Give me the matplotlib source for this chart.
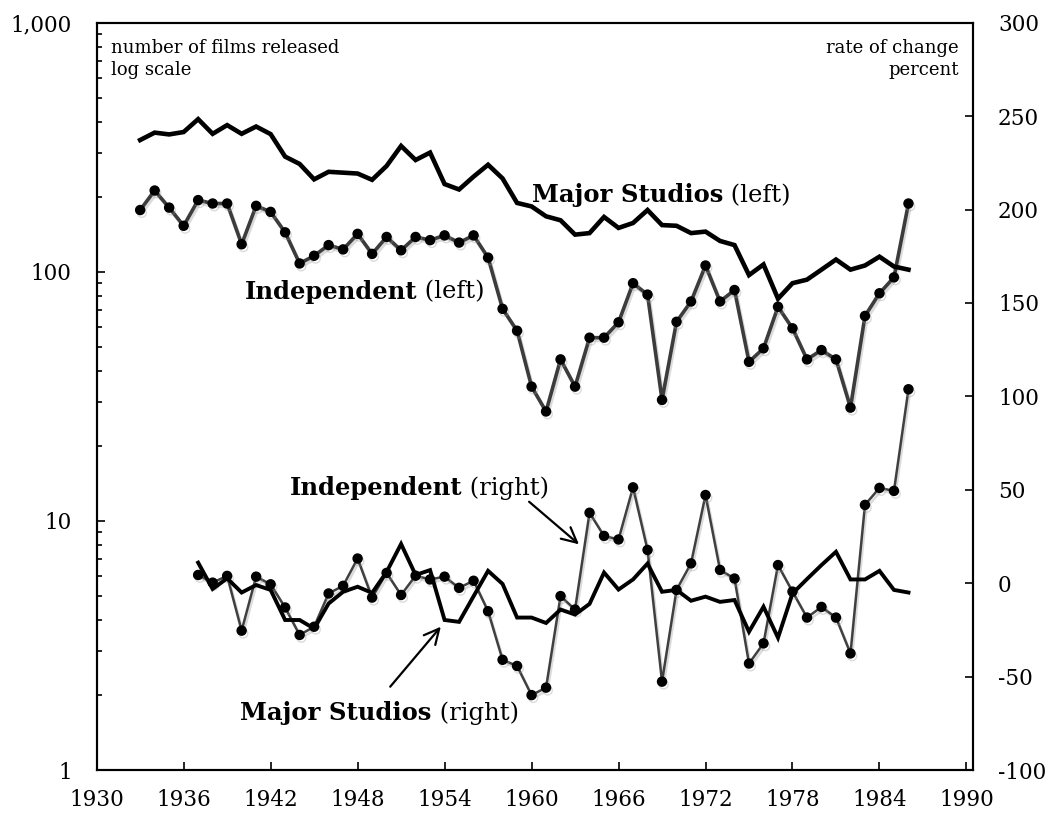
"""Film releases by major studios and independents, 1933-1986."""
import matplotlib

matplotlib.use("Agg")
import matplotlib.pyplot as plt
import matplotlib.patheffects as pe
from matplotlib.ticker import FixedLocator, FuncFormatter, LogLocator, NullFormatter
import numpy as np

YEARS_LEFT = np.arange(1933, 1987)
YEARS_RIGHT = np.arange(1937, 1987)

MAJOR_LEFT = [338, 362, 356, 364, 410, 358, 388, 358, 383, 357,
              290, 271, 235, 252, 250, 248, 234, 266, 320, 281,
              301, 225, 214, 241, 269, 237, 189, 183, 167, 161,
              141, 143, 166, 150, 157, 177, 154, 153, 143, 145,
              133, 128, 97, 107, 78, 90, 93, 102, 112, 102,
              106, 115, 105, 102]
INDEP_LEFT = [177, 212, 181, 153, 194, 188, 188, 129, 184, 174,
              144, 108, 116, 128, 123, 142, 118, 138, 122, 138,
              134, 140, 131, 140, 114, 71, 58, 34.6, 27.5, 44.5,
              34.6, 54.4, 54.4, 62.7, 90, 81, 30.6, 63, 76, 106,
              76, 84.5, 43.5, 49.3, 72.4, 59.3, 44.5, 48.5, 44.5, 28.5,
              66.5, 82, 95, 188]

MAJOR_RIGHT = [11, -3.1, 2.6, -5, -1, -3.6, -19.7, -19.7, -24.3, -10.9,
               -4.6, -1.9, -5.2, 6, 21, 4.4, 7, -19.7, -20.7, -7,
               6.6, -0.4, -18.4, -18.4, -21.3, -14.1, -16.8, -11.1, 5.7, -3.4,
               2, 10.5, -4.6, -3.6, -9.4, -7.2, -10, -9, -26, -12.6,
               -29.2, -5.5, 2.2, 9.7, 16.8, 2, 2, 6.6, -3.6, -5]
INDEP_RIGHT = [4.4, 0.3, 3.9, -25.4, 3.5, -0.6, -13, -27.7, -23.3, -5.5,
               -1.4, 13.2, -7.7, 5.5, -6.3, 4, 2, 3.5, -2.5, 1.3,
               -15, -41, -44.3, -59.9, -55.9, -6.9, -14.1, 37.7, 25.3, 23.4,
               51.3, 17.8, -52.7, -3.6, 10.6, 47.2, 7.1, 2.5, -43, -32.2,
               9.7, -4.5, -18.4, -12.7, -18.4, -37.6, 41.9, 51, 49.4, 103.8]

X_TICKS = [1930, 1936, 1942, 1948, 1954, 1960, 1966, 1972, 1978, 1984, 1990]
LEFT_TICKS = [1, 10, 100, 1000]
RIGHT_TICKS = [-100, -50, 0, 50, 100, 150, 200, 250, 300]

FONT = "DejaVu Serif"
SHADOW = [pe.SimpleLineShadow(offset=(1.2, -2.0), shadow_color="#999999", alpha=0.35), pe.Normal()]


def label_pair(ax, x, y, bold, regular, size=17.5):
    t = ax.text(x, y, bold, fontsize=size, fontweight="bold", family=FONT, va="baseline", ha="left")
    ax.annotate(regular, xy=(1, 0), xycoords=t, va="bottom", ha="left", fontsize=size, family=FONT)


def style_axis(ax):
    for side in ("left", "right", "top", "bottom"):
        ax.spines[side].set_linewidth(1.5)
    ax.tick_params(which="major", direction="in", length=6, width=1.2, labelsize=15.5, pad=18)
    ax.tick_params(which="minor", direction="in", length=3.5, width=1.2)
    for lab in ax.get_xticklabels() + ax.get_yticklabels():
        lab.set_family(FONT)


def main():
    fig = plt.figure(figsize=(10.53, 8.19), dpi=100)
    ax = fig.add_axes([0.0918, 0.0598, 0.8322, 0.9125])
    ax2 = ax.twinx()

    ax.plot(YEARS_LEFT, MAJOR_LEFT, color="black", linewidth=3.3, solid_joinstyle="miter", zorder=3)
    ax.plot(YEARS_LEFT, INDEP_LEFT, color="#3c3c3c", linewidth=2.6, marker="o", markersize=6.5,
            markerfacecolor="black", markeredgecolor="black", path_effects=SHADOW, zorder=2)
    ax2.plot(YEARS_RIGHT, INDEP_RIGHT, color="#404040", linewidth=1.8, marker="o", markersize=6.5,
             markerfacecolor="black", markeredgecolor="black", path_effects=SHADOW, zorder=2)
    ax2.plot(YEARS_RIGHT, MAJOR_RIGHT, color="black", linewidth=2.8, solid_joinstyle="miter", zorder=3)

    ax.set_yscale("log")
    ax.set_ylim(1, 1000)
    ax.set_xlim(1930, 1990.45)
    ax.xaxis.set_major_locator(FixedLocator(X_TICKS))
    ax.yaxis.set_major_locator(FixedLocator(LEFT_TICKS))
    ax.yaxis.set_major_formatter(FuncFormatter(lambda v, _: f"{v:,.0f}"))
    ax.yaxis.set_minor_locator(LogLocator(base=10, subs=np.arange(2, 10)))
    ax.yaxis.set_minor_formatter(NullFormatter())
    ax2.set_ylim(-100, 300)
    ax2.yaxis.set_major_locator(FixedLocator(RIGHT_TICKS))
    ax2.yaxis.set_major_formatter(FuncFormatter(lambda v, _: f"{v:.0f}"))
    style_axis(ax)
    style_axis(ax2)
    ax.tick_params(axis="x", pad=14)

    ax.text(0.0164, 0.978, "number of films released\nlog scale", transform=ax.transAxes,
            fontsize=13, family=FONT, va="top", ha="left", linespacing=1.25)
    ax.text(0.984, 0.978, "rate of change\npercent", transform=ax.transAxes,
            fontsize=13, family=FONT, va="top", ha="right", linespacing=1.25, multialignment="right")

    label_pair(ax, 1960.0, 190, "Major Studios", " (left)")
    label_pair(ax, 1940.2, 78, "Independent", " (left)")
    label_pair(ax2, 1943.3, 47, "Independent", " (right)")
    label_pair(ax2, 1939.9, -73, "Major Studios", " (right)")

    arrow = dict(arrowstyle="->", color="black", linewidth=1.6, mutation_scale=27, shrinkA=0, shrinkB=0)
    ax2.annotate("", xy=(1963.27, 20.8), xytext=(1959.83, 43.6), arrowprops=arrow)
    ax2.annotate("", xy=(1953.74, -23.3), xytext=(1950.25, -55.4), arrowprops=arrow)

    fig.savefig("out.png", dpi=100)
    plt.close(fig)


if __name__ == "__main__":
    main()
